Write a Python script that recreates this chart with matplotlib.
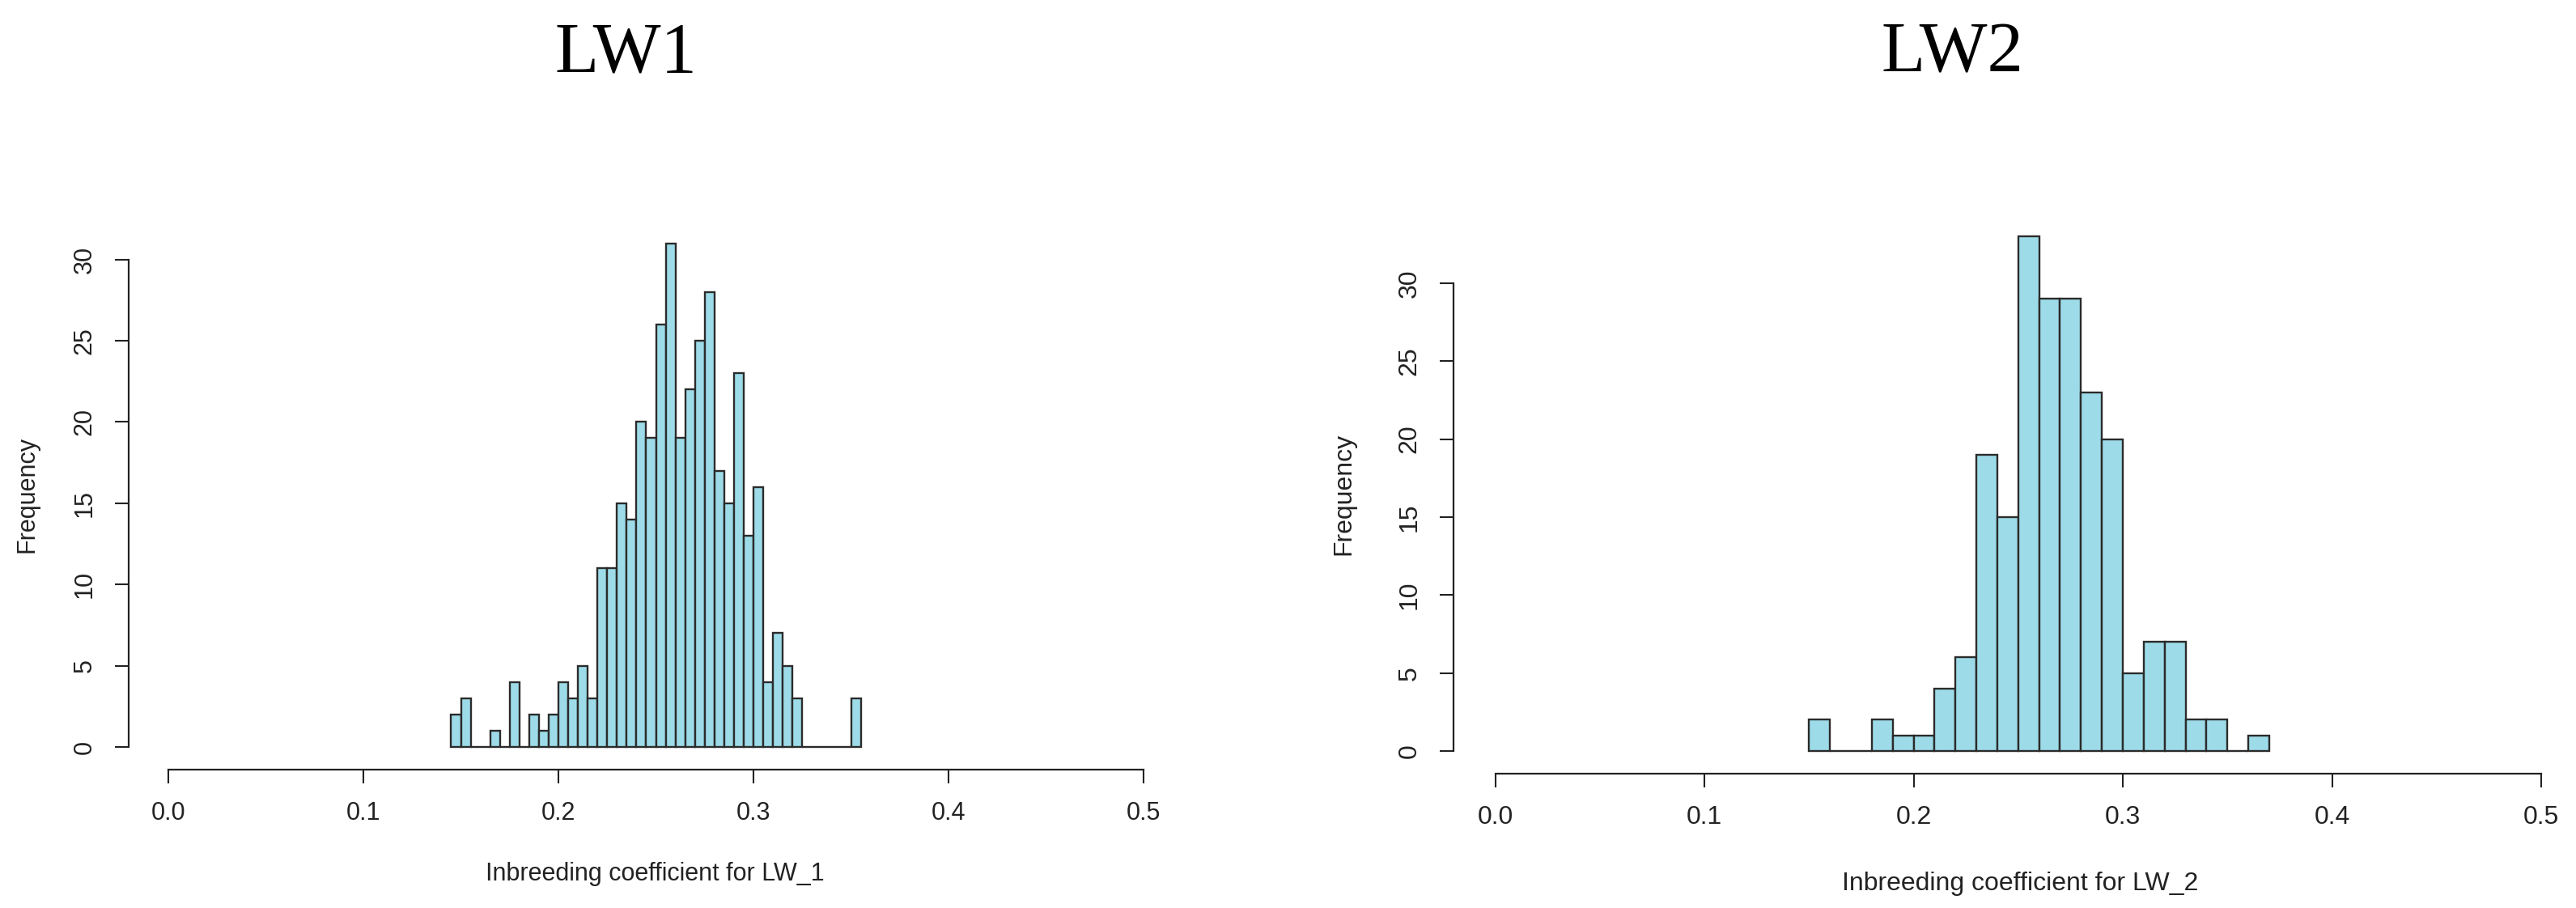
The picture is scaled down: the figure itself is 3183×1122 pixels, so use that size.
import numpy as np
import matplotlib
matplotlib.use("Agg")
import matplotlib.pyplot as plt

# -----------------------------
# DATA
# -----------------------------
lw1_start = 0.145
lw1_binw = 0.005
lw1_counts = [2, 3, 0, 0, 1, 0, 4, 0, 2, 1, 2, 4, 3, 5, 3, 11, 11, 15, 14, 20, 19,
              26, 31, 19, 22, 25, 28, 17, 15, 23, 13, 16, 4, 7, 5, 3, 0, 0, 0, 0, 0, 3]

lw2_start = 0.15
lw2_binw = 0.01
lw2_counts = [2, 0, 0, 2, 1, 1, 4, 6, 19, 15, 33, 29, 29, 23, 20, 5, 7, 7, 2, 2, 0, 1]

x_ticks = [0.0, 0.1, 0.2, 0.3, 0.4, 0.5]
x_ticklabels = ["0.0", "0.1", "0.2", "0.3", "0.4", "0.5"]
y_ticks = [0, 5, 10, 15, 20, 25, 30]

titles = ["LW1", "LW2"]
xlabels = ["Inbreeding coefficient for LW_1", "Inbreeding coefficient for LW_2"]

# -----------------------------
# STYLE
# -----------------------------
W, H, DPI = 3183, 1122, 100
FILL = "#9ddbe8"
EDGE = "#2b2b2b"
INK = "#222222"
SANS = ["Liberation Sans", "DejaVu Sans"]
SERIF = ["Liberation Serif", "DejaVu Serif"]

fig = plt.figure(figsize=(W / DPI, H / DPI), dpi=DPI)


def px_axes(x0, x1, y_top, y_bot):
    # rectangle given in image pixels (y measured from top)
    return fig.add_axes([x0 / W, 1 - y_bot / H, (x1 - x0) / W, (y_bot - y_top) / H])


def draw_hist(ax, start, binw, counts, xlim, ylim, xlabel, xl_pos, yl_pos, fs):
    edges = start + binw * np.arange(len(counts))
    ax.bar(edges, counts, width=binw, align="edge", color=FILL,
           edgecolor=EDGE, linewidth=1.7)
    ax.set_xlim(*xlim)
    ax.set_ylim(*ylim)

    for s in ("top", "right"):
        ax.spines[s].set_visible(False)
    ax.spines["left"].set_bounds(0, 30)
    ax.spines["bottom"].set_bounds(0, 0.5)
    for s in ("left", "bottom"):
        ax.spines[s].set_linewidth(1.6)
        ax.spines[s].set_color(INK)

    ax.set_xticks(x_ticks)
    ax.set_xticklabels(x_ticklabels)
    ax.set_yticks(y_ticks)
    ax.tick_params(direction="out", length=12.5, width=1.5, color=INK,
                   labelsize=fs, labelcolor=INK)
    ax.tick_params(axis="x", pad=16)
    ax.tick_params(axis="y", pad=16, labelrotation=90)
    for t in ax.get_yticklabels():
        t.set_verticalalignment("center")
        t.set_family(SANS)
    for t in ax.get_xticklabels():
        t.set_family(SANS)

    ax.set_xlabel(xlabel, fontsize=fs, family=SANS, color=INK)
    ax.xaxis.label.set_verticalalignment("center")
    ax.xaxis.set_label_coords(*xl_pos)
    ax.set_ylabel("Frequency", fontsize=fs, family=SANS, color=INK)
    ax.yaxis.label.set_rotation_mode("default")
    ax.yaxis.label.set_verticalalignment("center")
    ax.yaxis.set_label_coords(*yl_pos)
    ax.patch.set_alpha(0)


# left panel: y axis at px 159, x axis at px 950.5
# data x 0 -> 208 px, 0.5 -> 1413 px ; y 0 -> 923 px, 30 -> 320.5 px
sx1, sy1 = 2410.0, 20.08
xl1 = ((159 - 208) / sx1, 0.52)
yl1 = ((923 - 950.5) / sy1, 32.5)
ax1 = px_axes(159, 208 + xl1[1] * sx1, 923 - yl1[1] * sy1, 950.5)
ax1_w = (xl1[1] - xl1[0]) * sx1
ax1_h = (yl1[1] - yl1[0]) * sy1
draw_hist(ax1, lw1_start, lw1_binw, lw1_counts, xl1, yl1, xlabels[0],
          ((809 - 159) / ax1_w, -(1080 - 950.5) / ax1_h),
          ((33 - 159) / ax1_w, (950.5 - 611) / ax1_h), 22)

# right panel: y axis at px 1796, x axis at px 955.5
sx2, sy2 = 2585.0, 19.27
xl2 = ((1796 - 1847.5) / sx2, 0.51)
yl2 = ((928 - 955.5) / sy2, 34)
ax2 = px_axes(1796, 1847.5 + xl2[1] * sx2, 928 - yl2[1] * sy2, 955.5)
ax2_w = (xl2[1] - xl2[0]) * sx2
ax2_h = (yl2[1] - yl2[0]) * sy2
draw_hist(ax2, lw2_start, lw2_binw, lw2_counts, xl2, yl2, xlabels[1],
          ((2496 - 1796) / ax2_w, -(1092 - 955.5) / ax2_h),
          ((1660 - 1796) / ax2_w, (955.5 - 610) / ax2_h), 23)

# panel titles
fig.text(773 / W, 1 - 88 / H, titles[0], ha="center", va="baseline",
         fontsize=64, family=SERIF)
fig.text(2412 / W, 1 - 88 / H, titles[1], ha="center", va="baseline",
         fontsize=64, family=SERIF)

fig.savefig("out.png", dpi=DPI, facecolor="white")
